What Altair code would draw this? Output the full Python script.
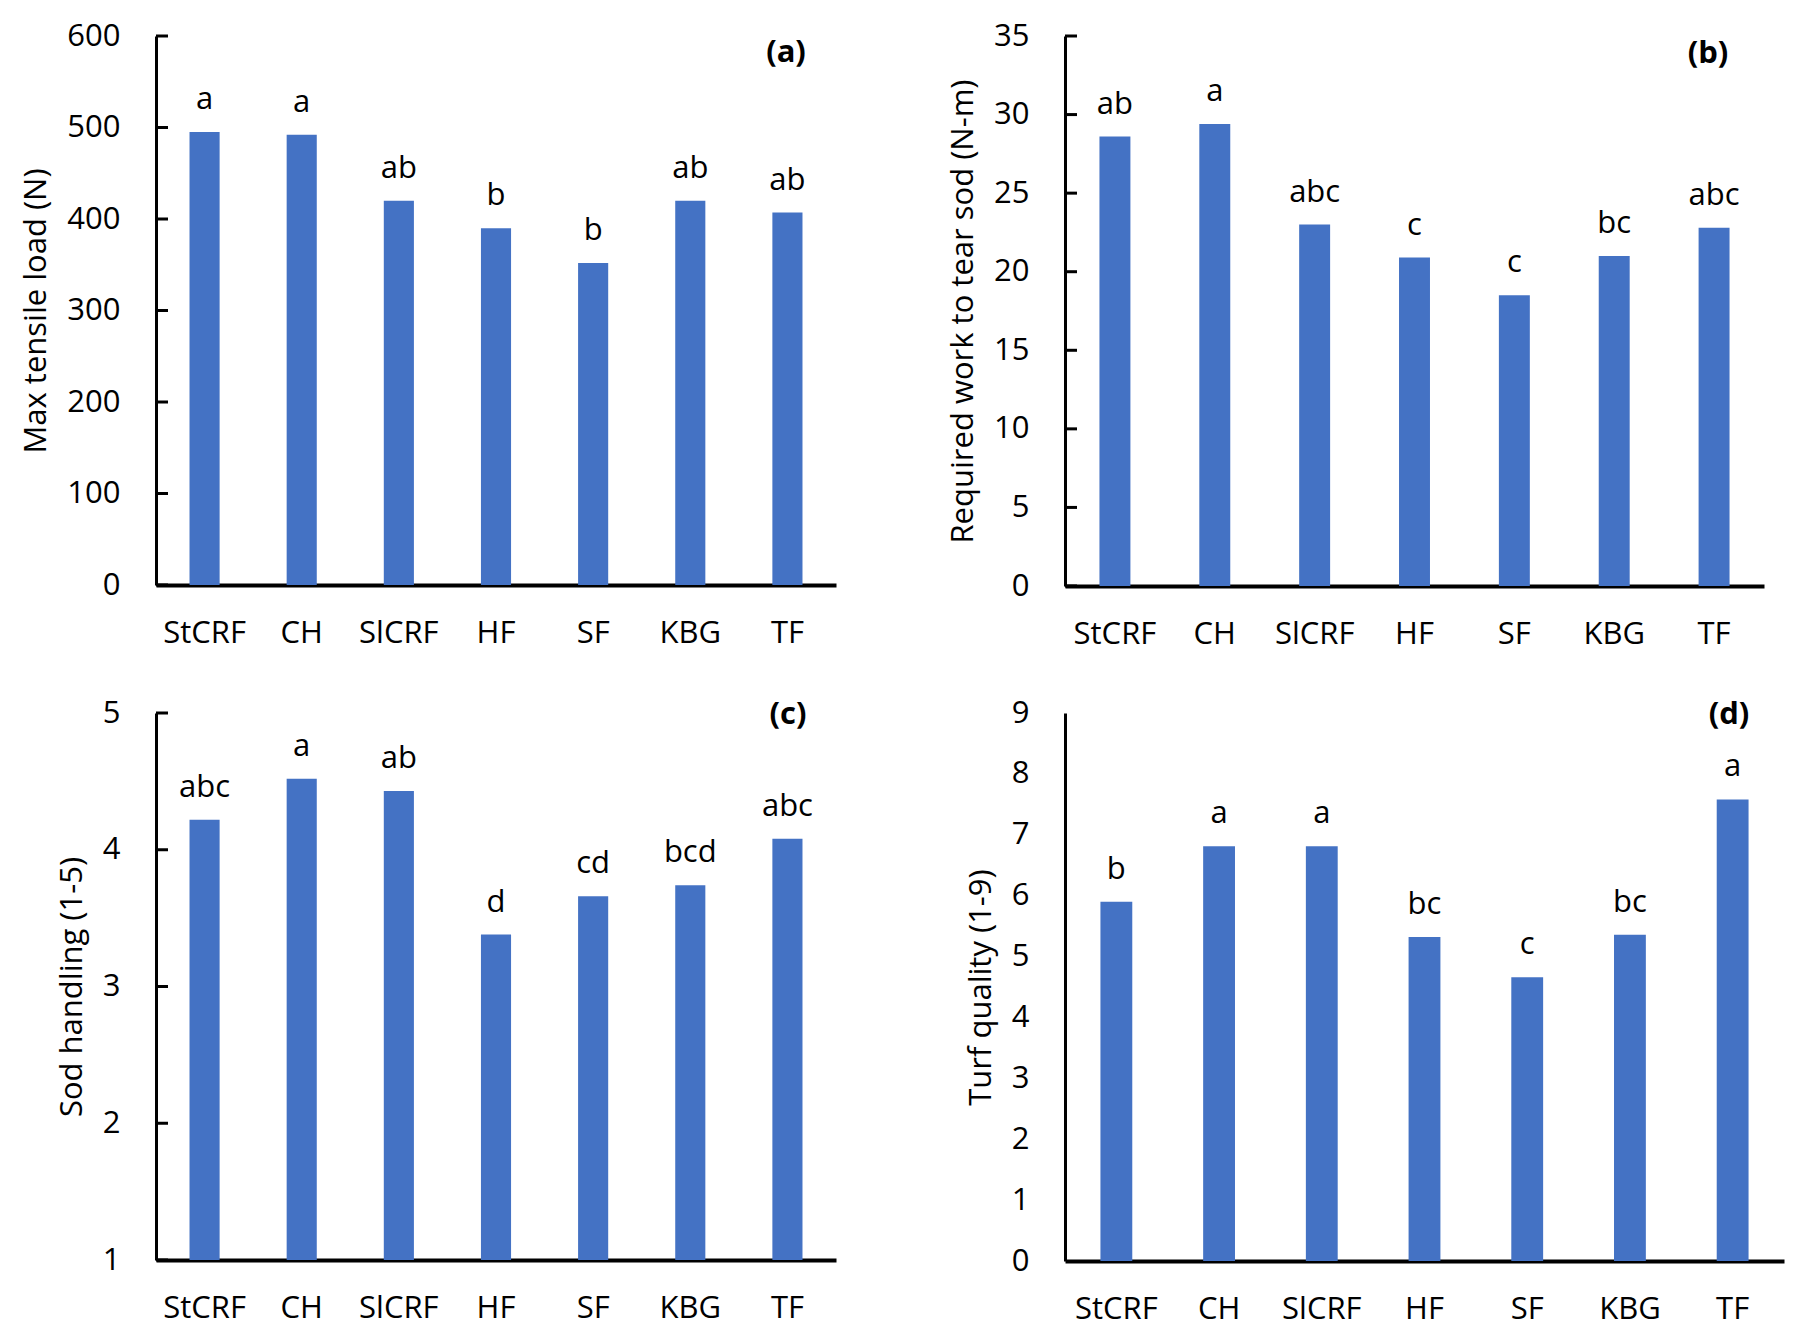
import altair as alt
import pandas as pd

categories = ["StCRF", "CH", "SlCRF", "HF", "SF", "KBG", "TF"]

tensile = [495, 492, 420, 390, 352, 420, 407]
tensile_letters = ["a", "a", "ab", "b", "b", "ab", "ab"]

work = [28.6, 29.4, 23.0, 20.9, 18.5, 21.0, 22.8]
work_letters = ["ab", "a", "abc", "c", "c", "bc", "abc"]

handling = [4.22, 4.52, 4.43, 3.38, 3.66, 3.74, 4.08]
handling_letters = ["abc", "a", "ab", "d", "cd", "bcd", "abc"]

quality = [5.90, 6.81, 6.81, 5.32, 4.66, 5.36, 7.58]
quality_letters = ["b", "a", "a", "bc", "c", "bc", "a"]

FONT = "Open Sans"
FS = 31
BLUE = "#4472C4"


def panel(values, letters, title, tag, domain, ticks, width, height,
          inner_ticks, tag_dx, tag_y):
    df = pd.DataFrame({"cat": categories, "val": values, "lab": letters,
                       "base": [domain[0]] * len(categories)})
    xenc = alt.X("cat:N", sort=categories,
                 scale=alt.Scale(paddingInner=0.69, paddingOuter=0.345),
                 axis=alt.Axis(title=None, labelAngle=0, labelFont=FONT,
                               labelFontSize=FS, labelColor="black",
                               labelPadding=33, ticks=False, tickSize=0,
                               domainColor="black", domainWidth=4))
    yscale = alt.Scale(domain=domain, zero=False, nice=False)
    yenc = alt.Y("val:Q", scale=yscale,
                 axis=alt.Axis(title=title, values=ticks, format="d",
                               grid=False, ticks=False, tickSize=0,
                               labelPadding=36, labelFont=FONT,
                               labelFontSize=FS, labelColor="black",
                               titleFont=FONT, titleFontSize=FS,
                               titleFontWeight="normal", titleColor="black",
                               titlePadding=14, domainColor="black",
                               domainWidth=3))
    base = alt.Chart(df)
    bars = base.mark_bar(color=BLUE).encode(x=xenc, y=yenc, y2="base:Q")
    text = base.mark_text(font=FONT, fontSize=FS, color="black",
                          baseline="alphabetic", dy=-23).encode(
        x=alt.X("cat:N", sort=categories),
        y=alt.Y("val:Q", title=title),
        text="lab:N")
    layers = [bars, text]
    if inner_ticks:
        tdf = pd.DataFrame({"t": ticks})
        rules = alt.Chart(tdf).mark_rule(color="black", strokeWidth=3).encode(
            y=alt.Y("t:Q", title=title), x=alt.value(0), x2=alt.value(12))
        layers.append(rules)
    tag_chart = alt.Chart(pd.DataFrame({"tag": [tag]})).mark_text(
        font=FONT, fontSize=FS, fontWeight="bold", color="black",
        align="center", baseline="middle").encode(
        x=alt.value(width - tag_dx), y=alt.value(tag_y), text="tag:N")
    layers.append(tag_chart)
    return alt.layer(*layers).properties(width=width, height=height)


pa = panel(tensile, tensile_letters, "Max tensile load (N)", "(a)",
           [0, 600], [0, 100, 200, 300, 400, 500, 600], 680, 549, True, 50, 17)
pb = panel(work, work_letters, "Required work to tear sod (N-m)", "(b)",
           [0, 35], [0, 5, 10, 15, 20, 25, 30, 35], 699, 550, True, 56, 18)
pc = panel(handling, handling_letters, "Sod handling (1-5)", "(c)",
           [1, 5], [1, 2, 3, 4, 5], 680, 547, True, 48, 2)
pd_ = panel(quality, quality_letters, "Turf quality (1-9)", "(d)",
            [0, 9], [0, 1, 2, 3, 4, 5, 6, 7, 8, 9], 719, 548, False, 55, 2)

chart = alt.concat(pa, pb, pc, pd_, columns=2,
                   spacing={"row": 48, "column": 111}).properties(
    background="white",
    padding={"left": 12, "top": 12, "right": 5, "bottom": 5}
).configure_view(stroke=None)

chart.save("out.html", embed_options={"renderer": "svg", "actions": False})
